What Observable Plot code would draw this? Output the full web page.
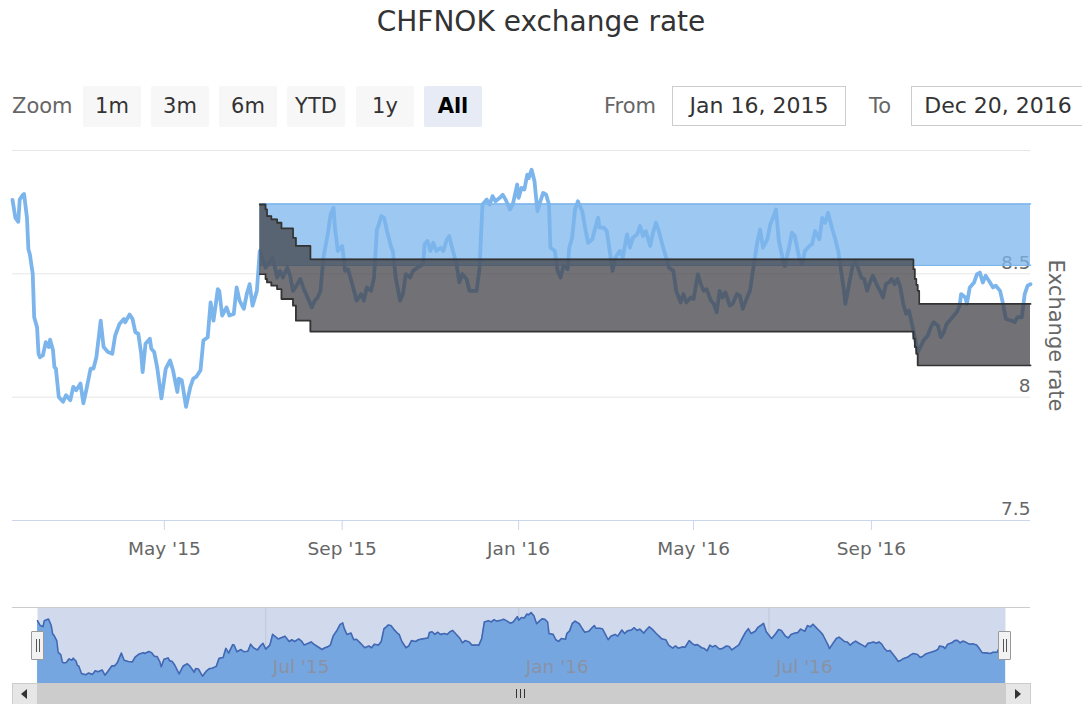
<!DOCTYPE html>
<html><head><meta charset="utf-8">
<script src="https://cdn.jsdelivr.net/npm/d3@7"></script>
<script src="https://cdn.jsdelivr.net/npm/@observablehq/plot@0.6"></script>
<style>
body{margin:0;background:#fff;font-family:"DejaVu Sans",sans-serif;}
#wrap{position:relative;width:1082px;height:704px;overflow:hidden;background:#fff;}
.abs{position:absolute;}
#title{left:0;top:4px;width:1082px;text-align:center;font-size:28px;line-height:36px;color:#333;}
.lbl{font-size:21px;color:#666;line-height:41px;top:86px;}
.btn{top:86px;width:58px;height:41px;line-height:41px;text-align:center;font-size:21px;color:#333;background:#f7f7f7;border-radius:2px;}
.btn.sel{background:#e6ebf5;font-weight:bold;color:#000;}
.inp{top:86px;width:172px;height:38px;line-height:38px;border:1px solid #ccc;text-align:center;font-size:22px;color:#333;background:#fff;}
.handle{top:631px;width:11px;height:27px;background:#f2f2f2;border:1px solid #999;border-radius:1px;}
.handle i{position:absolute;top:7px;width:1px;height:13px;background:#555;}
</style></head>
<body><div id="wrap">
<div id="title" class="abs">CHFNOK exchange rate</div>
<div class="abs lbl" style="left:12px;">Zoom</div>
<div class="abs btn" style="left:83px;">1m</div>
<div class="abs btn" style="left:151px;">3m</div>
<div class="abs btn" style="left:219px;">6m</div>
<div class="abs btn" style="left:287px;">YTD</div>
<div class="abs btn" style="left:356px;">1y</div>
<div class="abs btn sel" style="left:424px;">All</div>
<div class="abs lbl" style="left:604px;">From</div>
<div class="abs inp" style="left:672px;">Jan 16, 2015</div>
<div class="abs lbl" style="left:869px;">To</div>
<div class="abs inp" style="left:911px;">Dec 20, 2016</div>
<div id="main" class="abs" style="left:0;top:140px;"></div>
<div id="nav" class="abs" style="left:0;top:590px;"></div>
<div class="abs" style="left:12px;top:607px;width:1018px;height:1px;background:#ccc;"></div>
<div class="abs handle" style="left:31px;"><i style="left:4px"></i><i style="left:7px"></i></div>
<div class="abs handle" style="left:998px;"><i style="left:4px"></i><i style="left:7px"></i></div>
<div class="abs" style="left:12px;top:683px;width:1018px;height:21px;background:#f2f2f2;"></div>
<div class="abs" style="left:37px;top:683px;width:968px;height:21px;background:#cccccc;"></div>
<div class="abs" style="left:12px;top:683px;width:24px;height:20px;background:#e6e6e6;border:1px solid #ccc;"></div>
<div class="abs" style="left:21px;top:689px;width:0;height:0;border-top:5px solid transparent;border-bottom:5px solid transparent;border-right:6px solid #333;"></div>
<div class="abs" style="left:1005px;top:683px;width:24px;height:20px;background:#e6e6e6;border:1px solid #ccc;"></div>
<div class="abs" style="left:1015px;top:689px;width:0;height:0;border-top:5px solid transparent;border-bottom:5px solid transparent;border-left:6px solid #333;"></div>
<div class="abs" style="left:516px;top:689px;width:1px;height:9px;background:#333;"></div>
<div class="abs" style="left:520px;top:689px;width:1px;height:9px;background:#333;"></div>
<div class="abs" style="left:524px;top:689px;width:1px;height:9px;background:#333;"></div>
</div>
<script>
const rateDates = ["2015-01-16","2015-01-18","2015-01-20","2015-01-21","2015-01-23","2015-01-24","2015-01-26","2015-01-27","2015-01-28","2015-01-30",
"2015-01-31","2015-02-02","2015-02-03","2015-02-04","2015-02-06","2015-02-08","2015-02-10","2015-02-11","2015-02-13","2015-02-14",
"2015-02-15","2015-02-17","2015-02-20","2015-02-22","2015-02-25","2015-02-27","2015-03-01","2015-03-04","2015-03-06","2015-03-08",
"2015-03-11","2015-03-13","2015-03-15","2015-03-18","2015-03-20","2015-03-23","2015-03-26","2015-03-28","2015-03-31","2015-04-03",
"2015-04-04","2015-04-07","2015-04-09","2015-04-11","2015-04-13","2015-04-15","2015-04-16","2015-04-18","2015-04-21","2015-04-22",
"2015-04-24","2015-04-26","2015-04-29","2015-05-02","2015-05-05","2015-05-07","2015-05-10","2015-05-11","2015-05-13","2015-05-14",
"2015-05-16","2015-05-19","2015-05-21","2015-05-23","2015-05-26","2015-05-28","2015-05-31","2015-06-02","2015-06-04","2015-06-07",
"2015-06-08","2015-06-10","2015-06-13","2015-06-15","2015-06-18","2015-06-20","2015-06-22","2015-06-25","2015-06-27","2015-06-29",
"2015-07-01","2015-07-04","2015-07-06","2015-07-10","2015-07-15","2015-07-18","2015-07-20","2015-07-22","2015-07-25","2015-07-27",
"2015-07-29","2015-08-01","2015-08-03","2015-08-05","2015-08-07","2015-08-11","2015-08-13","2015-08-15","2015-08-17","2015-08-19",
"2015-08-22","2015-08-24","2015-08-26","2015-08-27","2015-08-29","2015-09-01","2015-09-03","2015-09-05","2015-09-08","2015-09-11",
"2015-09-14","2015-09-16","2015-09-18","2015-09-21","2015-09-23","2015-09-25","2015-09-26","2015-09-28","2015-09-30","2015-10-02",
"2015-10-05","2015-10-06","2015-10-08","2015-10-11","2015-10-13","2015-10-15","2015-10-18","2015-10-20","2015-10-23","2015-10-27",
"2015-10-28","2015-10-30","2015-11-01","2015-11-03","2015-11-05","2015-11-08","2015-11-10","2015-11-12","2015-11-14","2015-11-16",
"2015-11-19","2015-11-21","2015-11-23","2015-11-26","2015-11-28","2015-12-01","2015-12-03","2015-12-05","2015-12-07","2015-12-10",
"2015-12-12","2015-12-14","2015-12-16","2015-12-19","2015-12-21","2015-12-23","2015-12-26","2015-12-28","2015-12-31","2016-01-01",
"2016-01-03","2016-01-05","2016-01-07","2016-01-08","2016-01-10","2016-01-12","2016-01-14","2016-01-16","2016-01-18","2016-01-20",
"2016-01-22","2016-01-23","2016-01-26","2016-01-28","2016-01-30","2016-02-01","2016-02-04","2016-02-05","2016-02-07","2016-02-09",
"2016-02-11","2016-02-14","2016-02-16","2016-02-18","2016-02-21","2016-02-23","2016-02-25","2016-02-26","2016-02-29","2016-03-02",
"2016-03-04","2016-03-06","2016-03-08","2016-03-11","2016-03-13","2016-03-16","2016-03-18","2016-03-20","2016-03-23","2016-03-25",
"2016-03-27","2016-03-29","2016-04-01","2016-04-03","2016-04-05","2016-04-07","2016-04-10","2016-04-12","2016-04-14","2016-04-17",
"2016-04-19","2016-04-22","2016-04-24","2016-04-26","2016-04-29","2016-05-01","2016-05-04","2016-05-06","2016-05-08","2016-05-10",
"2016-05-13","2016-05-15","2016-05-17","2016-05-19","2016-05-21","2016-05-23","2016-05-26","2016-05-28","2016-05-31","2016-06-02",
"2016-06-04","2016-06-07","2016-06-09","2016-06-11","2016-06-14","2016-06-16","2016-06-18","2016-06-21","2016-06-23","2016-06-25",
"2016-06-27","2016-06-29","2016-07-02","2016-07-03","2016-07-06","2016-07-08","2016-07-10","2016-07-13","2016-07-15","2016-07-17",
"2016-07-20","2016-07-22","2016-07-24","2016-07-27","2016-07-29","2016-07-31","2016-08-02","2016-08-05","2016-08-07","2016-08-09",
"2016-08-11","2016-08-13","2016-08-14","2016-08-17","2016-08-19","2016-08-21","2016-08-23","2016-08-25","2016-08-27","2016-08-29",
"2016-08-31","2016-09-02","2016-09-05","2016-09-07","2016-09-09","2016-09-11","2016-09-13","2016-09-15","2016-09-17","2016-09-19",
"2016-09-21","2016-09-23","2016-09-25","2016-09-27","2016-09-29","2016-10-01","2016-10-03","2016-10-05","2016-10-07","2016-10-10",
"2016-10-12","2016-10-14","2016-10-17","2016-10-19","2016-10-21","2016-10-23","2016-10-25","2016-10-28","2016-10-30","2016-11-01",
"2016-11-02","2016-11-05","2016-11-06","2016-11-08","2016-11-11","2016-11-13","2016-11-15","2016-11-17","2016-11-19","2016-11-22",
"2016-11-24","2016-11-26","2016-11-29","2016-12-01","2016-12-03","2016-12-07","2016-12-09","2016-12-11","2016-12-14","2016-12-16",
"2016-12-18","2016-12-20"];
const rateValues = [8.800,8.727,8.711,8.801,8.819,8.824,8.727,8.600,8.579,8.499,
8.324,8.283,8.176,8.162,8.169,8.223,8.203,8.233,8.190,8.122,
8.116,8.001,7.981,8.008,7.988,8.042,8.028,8.055,7.975,8.028,
8.116,8.116,8.162,8.310,8.203,8.183,8.176,8.250,8.297,8.317,
8.304,8.335,8.317,8.263,8.257,8.176,8.102,8.217,8.237,8.196,
8.183,8.122,7.995,8.116,8.149,8.109,8.021,8.075,8.069,8.035,
7.961,8.042,8.075,8.082,8.109,8.230,8.243,8.384,8.310,8.438,
8.431,8.331,8.364,8.331,8.337,8.445,8.391,8.358,8.418,8.458,
8.371,8.431,8.593,8.525,8.566,8.485,8.512,8.485,8.525,8.492,
8.431,8.458,8.479,8.445,8.418,8.364,8.391,8.404,8.431,8.566,
8.660,8.741,8.767,8.687,8.593,8.613,8.512,8.519,8.458,8.391,
8.418,8.391,8.445,8.431,8.485,8.680,8.694,8.734,8.727,8.673,
8.606,8.593,8.485,8.391,8.418,8.499,8.485,8.512,8.525,8.539,
8.620,8.633,8.593,8.626,8.593,8.606,8.593,8.633,8.653,8.606,
8.539,8.465,8.499,8.479,8.431,8.431,8.431,8.525,8.781,8.801,
8.781,8.815,8.794,8.808,8.821,8.801,8.761,8.781,8.862,8.808,
8.848,8.842,8.902,8.888,8.922,8.875,8.754,8.794,8.828,8.821,
8.781,8.606,8.593,8.512,8.485,8.532,8.519,8.606,8.646,8.761,
8.794,8.754,8.687,8.626,8.640,8.687,8.727,8.687,8.687,8.673,
8.593,8.512,8.566,8.593,8.566,8.660,8.606,8.646,8.660,8.694,
8.653,8.673,8.613,8.667,8.707,8.673,8.606,8.566,8.525,8.512,
8.431,8.384,8.418,8.384,8.404,8.398,8.499,8.458,8.431,8.438,
8.391,8.378,8.344,8.431,8.404,8.425,8.371,8.378,8.418,8.411,
8.358,8.404,8.431,8.512,8.626,8.680,8.606,8.640,8.700,8.727,
8.761,8.633,8.552,8.532,8.606,8.667,8.653,8.566,8.539,8.593,
8.613,8.620,8.673,8.640,8.727,8.707,8.747,8.680,8.640,8.593,
8.512,8.431,8.378,8.472,8.532,8.552,8.519,8.485,8.479,8.431,
8.465,8.492,8.452,8.431,8.404,8.458,8.465,8.479,8.458,8.479,
8.445,8.378,8.338,8.351,8.297,8.243,8.183,8.203,8.230,8.250,
8.283,8.304,8.290,8.243,8.263,8.297,8.310,8.331,8.344,8.371,
8.418,8.404,8.378,8.445,8.465,8.499,8.505,8.465,8.492,8.465,
8.445,8.452,8.431,8.378,8.317,8.310,8.304,8.324,8.324,8.418,
8.452,8.458];

const darkDates = ["2015-07-06","2015-07-10","2015-07-11","2015-07-14","2015-07-18","2015-07-21","2015-07-29","2015-07-31","2015-08-10",
"2016-09-29","2016-09-30","2016-10-01","2016-10-02","2016-10-03","2016-10-04","2016-12-20"];
const darkHigh = [8.781,8.761,8.734,8.721,8.707,8.684,8.646,8.613,8.559,8.559,8.519,8.479,8.455,8.431,8.378,8.378];
const darkLow = [8.499,8.479,8.465,8.452,8.438,8.398,8.371,8.310,8.266,8.266,8.237,8.203,8.176,8.129,8.129,8.129];

const blueDates = ["2015-07-06","2016-12-20"];
const blueHigh = [8.783,8.783];
const blueLow = [8.535,8.535];

const mainTicks = ["2015-05-01","2015-09-01","2016-01-01","2016-05-01","2016-09-01"];
const navTicks = ["2015-07-01","2016-01-01","2016-07-01"];
const yTicks = [7.5, 8, 8.5];
const yGrid = [8, 8.5, 9];
const startDate = "2015-01-16", endDate = "2016-12-20";

const parse = d3.utcParse("%Y-%m-%d");
const rate = rateDates.map((d, i) => ({date: parse(d), value: rateValues[i]}));
const dark = darkDates.map((d, i) => ({date: parse(d), high: darkHigh[i], low: darkLow[i]}));
const blue = blueDates.map((d, i) => ({date: parse(d), high: blueHigh[i], low: blueLow[i]}));
const xDomain = [parse(startDate), parse(endDate)];
const fmt = d3.utcFormat("%b '%y");
const font = {fontFamily: "DejaVu Sans", fontSize: "18px", background: "transparent", overflow: "visible"};

const main = Plot.plot({
  width: 1082, height: 430, marginTop: 10, marginBottom: 50, marginLeft: 12, marginRight: 52,
  style: font,
  x: {type: "utc", domain: xDomain},
  y: {domain: [7.5, 9]},
  marks: [
    Plot.gridY(yGrid, {stroke: "#e6e6e6", strokeOpacity: 1}),
    Plot.ruleY([7.5], {stroke: "#ccd6eb"}),
    Plot.axisX(mainTicks.map(parse), {tickSize: 10, tickPadding: 11, stroke: "#ccd6eb", fill: "#666", fontSize: 18.5, tickFormat: fmt, label: null}),
    Plot.axisY(yTicks, {anchor: "right", tickSize: 0, tickPadding: 0, textAnchor: "end", dx: 0, dy: -11, fill: "#666", fontSize: 18.5, tickFormat: d => String(d), label: null}),
    Plot.text(["Exchange rate"], {text: d => d, frameAnchor: "right", textAnchor: "middle", rotate: 90, dx: 25, fill: "#666", fontSize: 21}),
    Plot.areaY(blue, {x: "date", y1: "low", y2: "high", fill: "#7cb5ec", fillOpacity: 0.75}),
    Plot.lineY(blue, {x: "date", y: "high", stroke: "#7cb5ec", strokeWidth: 1.6}),
    Plot.lineY(blue, {x: "date", y: "low", stroke: "#7cb5ec", strokeWidth: 1.6}),
    Plot.lineY(rate, {x: "date", y: "value", stroke: "#7cb5ec", strokeWidth: 3.8}),
    Plot.areaY(dark, {x: "date", y1: "low", y2: "high", curve: "step-after", fill: "#434348", fillOpacity: 0.75}),
    Plot.lineY(dark, {x: "date", y: "high", curve: "step-after", stroke: "#333", strokeWidth: 1.8}),
    Plot.lineY(dark, {x: "date", y: "low", curve: "step-after", stroke: "#333", strokeWidth: 1.8})
  ]
});
document.getElementById("main").appendChild(main);

const nav = Plot.plot({
  width: 1082, height: 93, marginTop: 17, marginBottom: 0, marginLeft: 37, marginRight: 77,
  style: font,
  x: {type: "utc", domain: xDomain},
  y: {domain: [7.85, 9.0], axis: null},
  marks: [
    Plot.gridX(navTicks.map(parse), {stroke: "#e6e6e6", strokeOpacity: 1}),
    Plot.areaY(rate, {x: "date", y1: 7.85, y2: "value", fill: "#7cb5ec"}),
    Plot.lineY(rate, {x: "date", y: "value", stroke: "#335cad", strokeWidth: 1.6}),
    Plot.axisX(navTicks.map(parse), {tickSize: 0, tickPadding: 0, textAnchor: "start", dx: 7, dy: -24, fill: "#999", fontSize: 18.5, tickFormat: fmt, label: null}),
    Plot.frame({fill: "rgb(102,133,194)", fillOpacity: 0.3, stroke: "none"})
  ]
});
document.getElementById("nav").appendChild(nav);
</script>
</body></html>
